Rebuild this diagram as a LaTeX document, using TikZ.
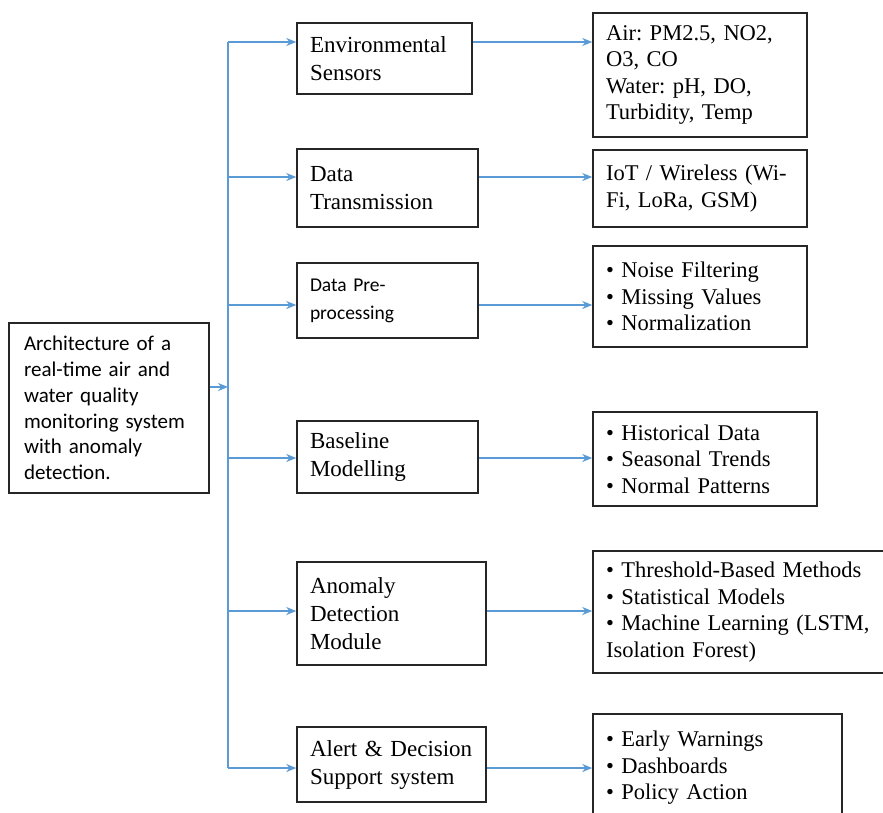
\documentclass[tikz,border=0pt]{standalone}
\usepackage{fontspec}
\setmainfont{Liberation Serif}
\newfontfamily\calfont{Carlito}
\usetikzlibrary{arrows.meta}
\definecolor{flowblue}{HTML}{5B9BD5}
\frenchspacing

\begin{document}
\begin{tikzpicture}[x=1pt,y=-1pt,
  midbox/.style={draw=black!85,line width=1.5pt,align=left,inner xsep=13pt,inner ysep=0pt,
    font=\fontsize{23}{28}\selectfont},
  outbox/.style={draw=black!85,line width=1.5pt,align=left,inner xsep=13pt,inner ysep=0pt,
    font=\fontsize{22.5}{26.5}\selectfont},
  bus/.style={draw=flowblue,line width=1.8pt},
  flow/.style={draw=flowblue,line width=1.8pt,-{Stealth[length=10pt,width=8pt]}}]
\useasboundingbox (0,0) rectangle (883,812);
\clip (0,0) rectangle (883,812);

\node[draw=black!85,line width=1.5pt,align=left,inner xsep=15pt,inner ysep=0pt,
  font=\calfont\fontsize{21}{25.7}\selectfont,text width=170pt,minimum height=170pt]
  (arch) at (109,408) {Architecture of a\\real-time air and\\water quality\\monitoring system\\with anomaly\\detection.};

\node[midbox,text width=149pt,minimum height=71pt] (env) at (384.5,58.5) {Environmental\\Sensors};
\node[midbox,text width=155pt,minimum height=78pt] (tx) at (387.5,188) {Data\\Transmission};
\node[midbox,text width=155pt,minimum height=75pt,font=\calfont\fontsize{19.5}{28}\selectfont]
  (pre) at (387.5,300.5) {Data Pre-\\processing};
\node[midbox,text width=155pt,minimum height=72pt] (base) at (387.5,457) {Baseline\\Modelling};
\node[midbox,text width=163pt,minimum height=103pt] (anom) at (391.5,613.5) {Anomaly\\Detection\\Module};
\node[midbox,text width=163pt,minimum height=75pt] (alert) at (391.5,764.5) {Alert \& Decision\\Support system};

\node[outbox,text width=188pt,minimum height=124pt] (air) at (700,75)
  {Air: PM2.5, NO2,\\O3, CO\\Water: pH, DO,\\Turbidity, Temp};
\node[outbox,text width=188pt,minimum height=77pt] (iot) at (700,188.5) {IoT / Wireless (Wi-\\Fi, LoRa, GSM)};
\node[outbox,text width=188pt,minimum height=101pt] (clean) at (700,296.5)
  {• Noise Filtering\\• Missing Values\\• Normalization};
\node[outbox,text width=198pt,minimum height=94pt] (hist) at (705,459)
  {• Historical Data\\• Seasonal Trends\\• Normal Patterns};
\node[outbox,text width=271pt,minimum height=122pt] (meth) at (741.5,612)
  {• Threshold-Based Methods\\• Statistical Models\\• Machine Learning (LSTM,\\Isolation Forest)};
\node[outbox,text width=223pt,minimum height=108pt] (act) at (717.5,768)
  {• Early Warnings\\• Dashboards\\• Policy Action};

\coordinate (t1) at (228,42);
\coordinate (t2) at (228,177);
\coordinate (t3) at (228,305);
\coordinate (t4) at (228,458);
\coordinate (t5) at (228,611);
\coordinate (t6) at (228,768);
\coordinate (tin) at (228,387);

\draw[bus] (t1) -- (t6);
\draw[flow] (arch.east |- tin) -- (tin);
\foreach \src/\dst/\tap in {env/air/t1,tx/iot/t2,pre/clean/t3,base/hist/t4,anom/meth/t5,alert/act/t6}{
  \draw[flow] (\tap) -- (\tap -| \src.west);
  \draw[flow] (\tap -| \src.east) -- (\tap -| \dst.west);
}
\end{tikzpicture}
\end{document}
